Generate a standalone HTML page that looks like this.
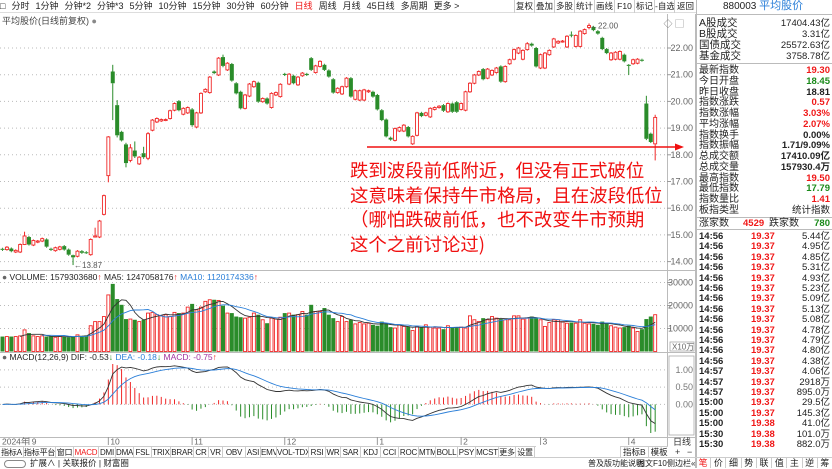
<!DOCTYPE html>
<html><head><meta charset="utf-8">
<style>
*{margin:0;padding:0;box-sizing:border-box}
body{width:832px;height:468px;overflow:hidden;background:#fff;font-family:"Liberation Sans","Noto Sans CJK SC",sans-serif;color:#222;position:relative}
.abs{position:absolute}
.tb{position:absolute;top:0;left:0;width:696px;height:13px;border-bottom:1px solid #ddd;font-size:9px;line-height:13px;white-space:nowrap}
.tb span{margin-right:6px}
.rt{position:absolute;top:0;height:13px;width:20px;font-size:8.5px;line-height:12px;border-left:1px solid #ccc;text-align:center;overflow:hidden;white-space:nowrap}
.rp{position:absolute;left:696px;top:0;width:136px;height:468px;border-left:1px solid #bbb;font-size:10px}
.row{position:absolute;left:2px;right:2px;height:11px;line-height:11px;white-space:nowrap}
.row .l{position:absolute;left:0}
.row .r{position:absolute;right:0}
.red{color:#f01818}.grn{color:#1a8a1a}
.tabs{position:absolute;left:0;top:446px;height:11px;width:536px;font-size:8px;line-height:11px;border-top:1px solid #ccc}
.tabs div{position:absolute;top:0;height:11px;border-right:1px solid #ccc;white-space:nowrap;text-align:center;overflow:hidden;letter-spacing:-0.2px}
</style></head><body>
<div class="tb">
<span>&#9633;</span><span>分时</span><span>1分钟</span><span>分钟*2</span><span>分钟*3</span><span>5分钟</span><span>10分钟</span><span>15分钟</span><span>30分钟</span><span>60分钟</span><span class="red">日线</span><span>周线</span><span>月线</span><span>45日线</span><span>多周期</span><span>更多 &gt;</span>
</div>
<div class="rt" style="left:514px">复权</div>
<div class="rt" style="left:534px">叠加</div>
<div class="rt" style="left:554px">多股</div>
<div class="rt" style="left:574px">统计</div>
<div class="rt" style="left:594px">画线</div>
<div class="rt" style="left:614px">F10</div>
<div class="rt" style="left:634px">标记</div>
<div class="rt" style="left:654px">-自选</div>
<div class="rt" style="left:674px;width:22px">返回</div>
<div class="abs" style="left:2px;top:14px;font-size:9px;color:#444">平均股价(日线前复权) <span style="color:#888">&#9679;</span></div>

<svg id="chart" class="abs" style="left:0;top:0" width="696" height="468"></svg>

<div class="abs" style="left:2px;top:272px;font-size:8.5px;white-space:nowrap"><span style="color:#666">&#9679;</span> VOLUME: 1579303680<span class="red">↑</span> MA5: 1247058176<span class="red">↑</span> <span style="color:#2b7fd8">MA10: 1120174336</span><span class="red">↑</span></div>
<div class="abs" style="left:2px;top:352px;font-size:8.5px;white-space:nowrap"><span style="color:#666">&#9679;</span> MACD(12,26,9) DIF: -0.53<span class="grn">↓</span> <span style="color:#2b7fd8">DEA: -0.18</span><span class="grn">↓</span> <span style="color:#a030a0">MACD: -0.75</span><span class="red">↑</span></div>

<div class="abs" style="left:350px;top:158px;font-size:18.4px;line-height:24.5px;color:#f01010;white-space:nowrap;font-family:'Noto Sans CJK SC',sans-serif">跌到波段前低附近，但没有正式破位<br>这意味着保持牛市格局，且在波段低位<br>（哪怕跌破前低，也不改变牛市预期<br>这个之前讨论过)</div>

<div class="tabs" id="tabs"></div>
<div class="abs" style="left:620px;top:446px;font-size:8.5px;line-height:11px;border-left:1px solid #ccc;border-top:1px solid #ccc;width:48px;height:11px;white-space:nowrap;background:#fff"><span style="padding:0 2px">指标B</span><span style="padding:0 2px;border-left:1px solid #ccc">模板</span></div>
<div class="abs" style="left:0;top:457px;width:696px;height:11px;border-top:1px solid #ccc;font-size:8.5px;line-height:11px;white-space:nowrap">
<span style="display:inline-block;width:22px;height:8px;border:1px solid #888;border-radius:4px;vertical-align:middle;margin:0 4px"></span><span>扩展∧</span> | <span>关联报价</span> | <span>财富圈</span>
<span class="abs" style="left:588px;top:0;font-size:8px">普及版功能说明</span><span class="abs" style="left:637px;top:0;font-size:8px">图文F10</span><span class="abs" style="left:667px;top:0;font-size:8px">侧边栏«</span></div>

<div class="rp">
<div class="row" style="top:1px;font-size:10px"><span style="margin-left:24px">880003 </span><span style="color:#2b7fd8;font-size:11px">平均股价</span></div>
<div class="abs" style="left:0;right:0;top:14px;border-top:1px solid #bbb"></div>
<div id="rows"></div>
</div>
<div class="abs" style="left:696px;top:457px;width:136px;height:11px;display:flex;font-size:9px;line-height:11px;border-top:1px solid #ccc">
<div style="flex:1;text-align:center;color:#f01818;border-right:1px solid #ccc">笔</div><div style="flex:1;text-align:center;border-right:1px solid #ccc">价</div><div style="flex:1;text-align:center;border-right:1px solid #ccc">细</div><div style="flex:1;text-align:center;border-right:1px solid #ccc">势</div><div style="flex:1;text-align:center;border-right:1px solid #ccc">联</div><div style="flex:1;text-align:center;border-right:1px solid #ccc">值</div><div style="flex:1;text-align:center;border-right:1px solid #ccc">主</div><div style="flex:1;text-align:center;border-right:1px solid #ccc">逆</div><div style="flex:1;text-align:center">筹</div>
</div>

<script>
// ---- chart data ----
const opens=[14.48,14.45,14.49,14.36,14.36,14.64,14.92,14.62,14.73,14.77,14.83,14.48,14.41,14.46,14.58,14.45,14.24,14.20,14.39,14.35,
14.26,14.92,14.92,15.77,17.22,21.12,19.86,18.86,18.39,17.79,18.16,17.66,18.06,17.87,18.92,19.23,19.27,19.30,19.36,19.67,
20.01,19.52,19.57,19.70,19.04,19.57,20.36,20.33,21.12,20.99,21.66,21.18,21.40,20.68,20.36,19.74,20.20,20.55,20.70,19.99,
20.11,19.77,20.24,20.18,21.03,20.65,20.96,20.62,20.96,21.03,21.62,21.08,21.31,21.37,21.16,20.83,20.33,20.28,20.55,20.87,
20.08,20.05,20.05,20.36,20.36,20.24,19.67,19.32,18.64,18.54,18.89,18.89,19.04,18.41,18.73,19.57,19.48,19.42,19.70,19.77,
19.86,19.61,19.92,19.97,19.70,19.67,20.36,20.68,20.99,21.21,20.87,20.99,21.08,21.31,20.74,21.41,21.58,21.81,21.58,21.94,
22.16,22.00,21.25,21.25,21.75,22.04,22.19,22.24,22.04,22.50,22.06,22.06,22.54,22.77,22.79,22.63,22.38,21.96,21.56,21.58,
21.58,21.75,21.37,21.41,21.43,21.56,19.92,18.79,18.41];
const closes=[14.44,14.54,14.39,14.42,14.64,14.96,14.64,14.79,14.77,14.86,14.56,14.44,14.52,14.55,14.45,14.26,14.16,14.39,14.33,14.33,
14.83,14.96,15.52,16.47,18.67,20.68,18.73,18.54,17.69,18.26,17.94,17.91,17.91,18.79,19.30,19.36,19.32,19.32,19.65,19.92,
19.67,19.74,19.77,19.11,19.57,20.30,20.45,20.91,21.06,21.62,21.33,21.43,20.78,20.30,19.74,20.24,20.65,20.74,19.99,20.11,
19.92,20.30,20.33,20.64,20.99,21.02,20.68,20.91,21.06,20.99,21.18,21.33,21.50,21.18,20.93,20.33,20.49,20.55,20.87,20.18,
20.40,20.40,20.43,20.40,20.18,19.70,19.30,18.69,18.57,18.98,19.02,19.11,18.69,18.69,19.57,19.45,19.57,19.74,19.77,19.82,
19.65,19.92,19.61,19.61,19.92,20.36,20.68,20.99,21.12,20.83,21.21,21.16,21.25,20.74,21.31,21.56,21.94,22.00,21.91,22.16,
22.09,21.31,21.75,21.81,21.91,22.34,22.25,22.26,22.44,22.47,22.47,22.63,22.69,22.84,22.67,22.54,21.96,21.81,21.81,21.84,
21.87,21.50,21.33,21.56,21.58,21.53,18.60,18.48,19.40];
const wickIdx=[5,16,21,24,25,26,28,29,30,32,33,43,50,119,129,133,142,146,148];
const wickHigh=[15.12,14.26,15.27,18.70,21.37,20.05,18.45,18.40,18.50,18.30,18.85,19.75,21.75,22.22,22.62,22.92,21.40,20.21,19.50];
const wickLow=[14.62,13.87,14.90,16.97,19.30,18.65,17.53,17.72,17.88,17.85,17.80,19.05,21.28,21.90,22.40,22.70,20.99,18.55,17.79];
const volumes=[6500,6500,6500,6500,6800,9400,8000,6800,6500,6800,6500,6500,6200,6500,6500,6200,6500,7250,6800,7000,
11200,13000,13000,15200,24600,29400,22800,20300,14100,14100,13800,13000,13800,16700,17000,16000,15500,16000,15200,17000,
16700,16700,19300,20700,18100,19300,21800,22500,22500,22200,19900,16700,16700,15200,14900,14500,14900,16700,16000,13800,
12300,14500,14100,14900,16700,16700,16000,16000,17400,16000,20300,17400,17400,18900,16000,14500,13000,15200,13000,13800,
12000,12600,12000,12300,11600,11200,13000,12300,10600,10200,11600,10900,10900,9100,10900,10600,11600,10600,10200,10200,
9700,11200,10600,10200,10600,10200,15500,13800,13000,14500,13800,15200,14500,14100,13800,13800,15500,15500,14100,14500,
15200,14500,13800,10900,12600,13800,13800,13000,12300,12600,12300,13800,12300,12000,12000,11600,13000,12600,11200,10600,
10200,10600,11200,10200,8700,9700,14100,15200,16000];
const monthLabels=["2024年 9","10","11","12","1","2","3","4"];
const monthIdx=[6,24,43,64,85,104,122,142];
const priceTicks=[22,21,20,19,18,17,16,15,14];
const volTicks=[30000,20000,10000];
const macdTicks=[1.0,0.5,0.0];

// indicator tabs
const tabNames=["指标A","指标平台","窗口","MACD","DMI","DMA","FSL","TRIX","BRAR","CR","VR","OBV","ASI","EMV","VOL-TDX","RSI","WR","SAR","KDJ","CCI","ROC","MTM","BOLL","PSY","MCST","更多","设置"];
const tabEdges=[0,24,56,74,99,116,134,152,171,194,209,223,246,261,277,309,326,341,361,381,399,419,436,458,476,499,516,535];
const tabsEl=document.getElementById('tabs');
tabNames.forEach((n,k)=>{const d=document.createElement('div');d.textContent=n;
 
 
 d.style.left=tabEdges[k]+'px';d.style.width=(tabEdges[k+1]-tabEdges[k])+'px';if(n==='MACD')d.style.color='#f01818';tabsEl.appendChild(d);});

// ---- scales ----
const NS='http://www.w3.org/2000/svg';
const svg=document.getElementById('chart');
const X=i=>2.5+i*4.41;
const PY=p=>48+(22-p)*26.7;
const VY=v=>351.5-v*0.0023;
function mk(tag,attrs,parent){const e=document.createElementNS(NS,tag);for(const k in attrs)e.setAttribute(k,attrs[k]);(parent||svg).appendChild(e);return e;}
const RED='#f02828',GRN='#2a8c2a';

mk('line',{x1:667.5,y1:14,x2:667.5,y2:457,stroke:'#bbb'});
mk('line',{x1:695.5,y1:14,x2:695.5,y2:468,stroke:'#bbb'});
mk('line',{x1:0,y1:270.5,x2:696,y2:270.5,stroke:'#bbb'});
mk('line',{x1:0,y1:352.5,x2:696,y2:352.5,stroke:'#bbb'});
mk('line',{x1:0,y1:437.5,x2:696,y2:437.5,stroke:'#bbb'});

priceTicks.forEach(p=>{const y=PY(p);
 const g=mk('line',{x1:0,y1:y,x2:667,y2:y,stroke:'#bbb','stroke-dasharray':'1,3'});
 
 mk('line',{x1:667,y1:y,x2:671,y2:y,stroke:'#999'});
 const t=mk('text',{x:693,y:y+3,'font-size':9,'text-anchor':'end',fill:'#666'});t.textContent=p.toFixed(2);
 
});
const gC=mk('g',{});
opens.forEach((o,i)=>{const c=closes[i];const up=c>=o;const col=up?RED:GRN;const x=X(i);
 let hi=Math.max(o,c)+0.04,lo=Math.min(o,c)-0.04;const w=wickIdx.indexOf(i);if(w>=0){hi=wickHigh[w];lo=wickLow[w];}
 const g=mk('g',{},gC);
 
 const yt=PY(Math.max(o,c)),yb=PY(Math.min(o,c));
 mk('line',{x1:x,y1:PY(hi),x2:x,y2:yt,stroke:col,'stroke-width':1},g);
 mk('line',{x1:x,y1:yb,x2:x,y2:PY(lo),stroke:col,'stroke-width':1},g);
 if(up)mk('rect',{x:x-1.5,y:yt,width:3,height:Math.max(1,yb-yt),fill:'#fff',stroke:col,'stroke-width':0.9},g);
 else mk('rect',{x:x-2,y:yt,width:4,height:Math.max(1,yb-yt),fill:col},g);
});
(function(){let mi=0,ma=0;closes.forEach((c,i)=>{const lo=Math.min(opens[i],c),hi=Math.max(opens[i],c);if(lo<Math.min(opens[mi],closes[mi]))mi=i;if(hi>Math.max(opens[ma],closes[ma]))ma=i;});
 const t1=mk('text',{x:X(mi)+1,y:PY(13.87)+3,'font-size':8,fill:'#555'});t1.textContent='←13.87';
 
 const t2=mk('text',{x:X(ma)+1,y:PY(22.92)+5,'font-size':8,fill:'#555'});t2.textContent='←22.00';
 
})();
const al=mk('line',{x1:367,y1:147,x2:676,y2:147,stroke:'#f01010','stroke-width':1.6});

const ah=mk('polygon',{points:'684,147 675,143.5 675,150.5',fill:'#f01010'});

mk('text',{x:684,y:27,'font-size':9,fill:'#777','text-anchor':'end'}).textContent='◇ ▢';

volTicks.forEach(v=>{const y=VY(v);
 mk('line',{x1:0,y1:y,x2:667,y2:y,stroke:'#bbb','stroke-dasharray':'1,3'});
 mk('line',{x1:667,y1:y,x2:671,y2:y,stroke:'#999'});
 const t=mk('text',{x:693,y:y+3,'font-size':9,'text-anchor':'end',fill:'#666'});t.textContent=v;
 
});
mk('rect',{x:670,y:342,width:24,height:9,fill:'#fff',stroke:'#aaa','stroke-width':0.8});
mk('text',{x:672,y:349.5,'font-size':8,fill:'#666'}).textContent='X10万';
const gV=mk('g',{});
volumes.forEach((v,i)=>{const up=closes[i]>=opens[i];const x=X(i);const y=VY(v);
 const r=up?mk('rect',{x:x-1.5,y:y,width:3,height:351.5-y,fill:'#fff',stroke:RED,'stroke-width':0.9},gV):mk('rect',{x:x-2,y:y,width:4,height:351.5-y,fill:GRN},gV);
 
});
function ma(arr,n){return arr.map((_,i)=>{if(i<n-1)return null;let s=0;for(let k=i-n+1;k<=i;k++)s+=arr[k];return s/n;});}
function poly(vals,fy,col,name){let d='';vals.forEach((v,i)=>{if(v==null)return;d+=(d?'L':'M')+X(i).toFixed(1)+','+fy(v).toFixed(1);});
 const p=mk('path',{d:d,fill:'none',stroke:col,'stroke-width':0.9});}
poly(ma(volumes,5),VY,'#333','volume-ma5');
poly(ma(volumes,10),VY,'#2b7fd8','volume-ma10');

function ema(arr,n){const a=2/(n+1);let e=arr[0];return arr.map(v=>(e=e+a*(v-e)));}
const e12=ema(closes,12),e26=ema(closes,26);
const dif=e12.map((v,i)=>v-e26[i]);const dea=ema(dif,9);const hist=dif.map((v,i)=>2*(v-dea[i]));
const all=dif.concat(dea,hist);const mx=Math.max(...all),mn=Math.min(...all);
const MY=v=>364+(mx-v)*(433-364)/(mx-mn);
macdTicks.forEach(v=>{const y=MY(v);
 mk('line',{x1:0,y1:y,x2:667,y2:y,stroke:'#bbb','stroke-dasharray':'1,3'});
 const t=mk('text',{x:693,y:y+3,'font-size':9,'text-anchor':'end',fill:'#777'});t.textContent=v.toFixed(2);
 
});
mk('rect',{x:669,y:356,width:25,height:79,fill:'none',stroke:'#aaa','stroke-width':0.8});
const gH=mk('g',{});
hist.forEach((h,i)=>{const x=X(i);const l=mk('line',{x1:x,y1:MY(0),x2:x,y2:MY(h),stroke:h>=0?RED:GRN,'stroke-width':1},gH);
 });
poly(dif,MY,'#333','dif-line');
poly(dea,MY,'#2b7fd8','dea-line');

monthIdx.forEach((m,k)=>{const x=X(m);mk('line',{x1:x,y1:437,x2:x,y2:445,stroke:'#999'});
 const t=mk('text',{x:k==0?2:x+2,y:444.5,'font-size':8.5,fill:'#666'});t.textContent=monthLabels[k];
 });
mk('text',{x:673,y:445,'font-size':9,fill:'#333'}).textContent='日线';
mk('text',{x:675,y:455,'font-size':9,fill:'#333'}).textContent='+';
mk('text',{x:687,y:455,'font-size':9,fill:'#333'}).textContent='−';

const rows=document.getElementById('rows');
const info=[["A股成交","17404.43亿",""],["B股成交","3.31亿",""],["国债成交","25572.63亿",""],["基金成交","3758.78亿",""],
["最新指数","19.30","red"],["今日开盘","18.45","grn"],["昨日收盘","18.81",""],["指数涨跌","0.57","red"],["指数涨幅","3.03%","red"],["平均涨幅","2.07%","red"],["指数换手","0.00%",""],["指数振幅","1.71/9.09%",""],["总成交额","17410.09亿",""],["总成交量","157930.4万",""],["最高指数","19.50","red"],["最低指数","17.79","grn"],["指数量比","1.41","red"],["板指类型","统计指数",""]];
info.forEach((r,k)=>{const top=k<4?18+k*11:65+(k-4)*10.75;
 const d=document.createElement('div');d.className='row';d.style.top=top+'px';
 
 d.innerHTML='<span class="l" style="font-size:'+(k<4?10.5:10)+'px">'+r[0]+'</span><span class="r '+r[2]+'" style="font-weight:'+(k>=4&&k<17?'bold':'normal')+';font-size:9.5px">'+r[1]+'</span>';
 rows.appendChild(d);});
const sep=(t)=>{const s=document.createElement('div');s.className='abs';s.style.cssText='left:0;right:0;top:'+t+'px;border-top:1px solid #bbb';rows.appendChild(s);};
sep(63);sep(217);sep(229);
const ud=document.createElement('div');ud.className='row';ud.style.top='218px';

ud.innerHTML='<span class="l">涨家数</span><span class="abs red" style="left:44px;font-weight:bold;font-size:9.5px">4529</span><span class="abs" style="left:70px">跌家数</span><span class="r grn" style="font-weight:bold;font-size:9.5px">780</span>';
rows.appendChild(ud);
const tickTimes=["14:56","14:56","14:56","14:56","14:56","14:56","14:56","14:56","14:56","14:56","14:56","14:56","14:56","14:57","14:57","14:57","15:00","15:00","15:00","15:30","15:30"];
const tickPrices=["19.37","19.37","19.37","19.37","19.37","19.37","19.37","19.37","19.37","19.37","19.37","19.37","19.37","19.37","19.37","19.37","19.37","19.37","19.38","19.38","19.38"];
const tickVols=["5.44亿","4.95亿","4.85亿","5.31亿","4.93亿","5.23亿","5.09亿","5.13亿","5.08亿","4.78亿","4.79亿","4.80亿","4.38亿","4.06亿","2918万","895.0万","29.5亿","145.3亿","41.0亿","101.0万","882.0万"];
tickTimes.forEach((t,k)=>{const d=document.createElement('div');d.className='row';d.style.top=(231+k*10.4)+'px';
 
 d.innerHTML='<span class="l" style="font-weight:bold;font-size:9.5px">'+t+'</span><span class="abs red" style="left:52px;font-weight:bold;font-size:9.5px">'+tickPrices[k]+'</span><span class="r" style="font-size:9.5px">'+tickVols[k]+'</span>';
 rows.appendChild(d);});
</script>
</body></html>
